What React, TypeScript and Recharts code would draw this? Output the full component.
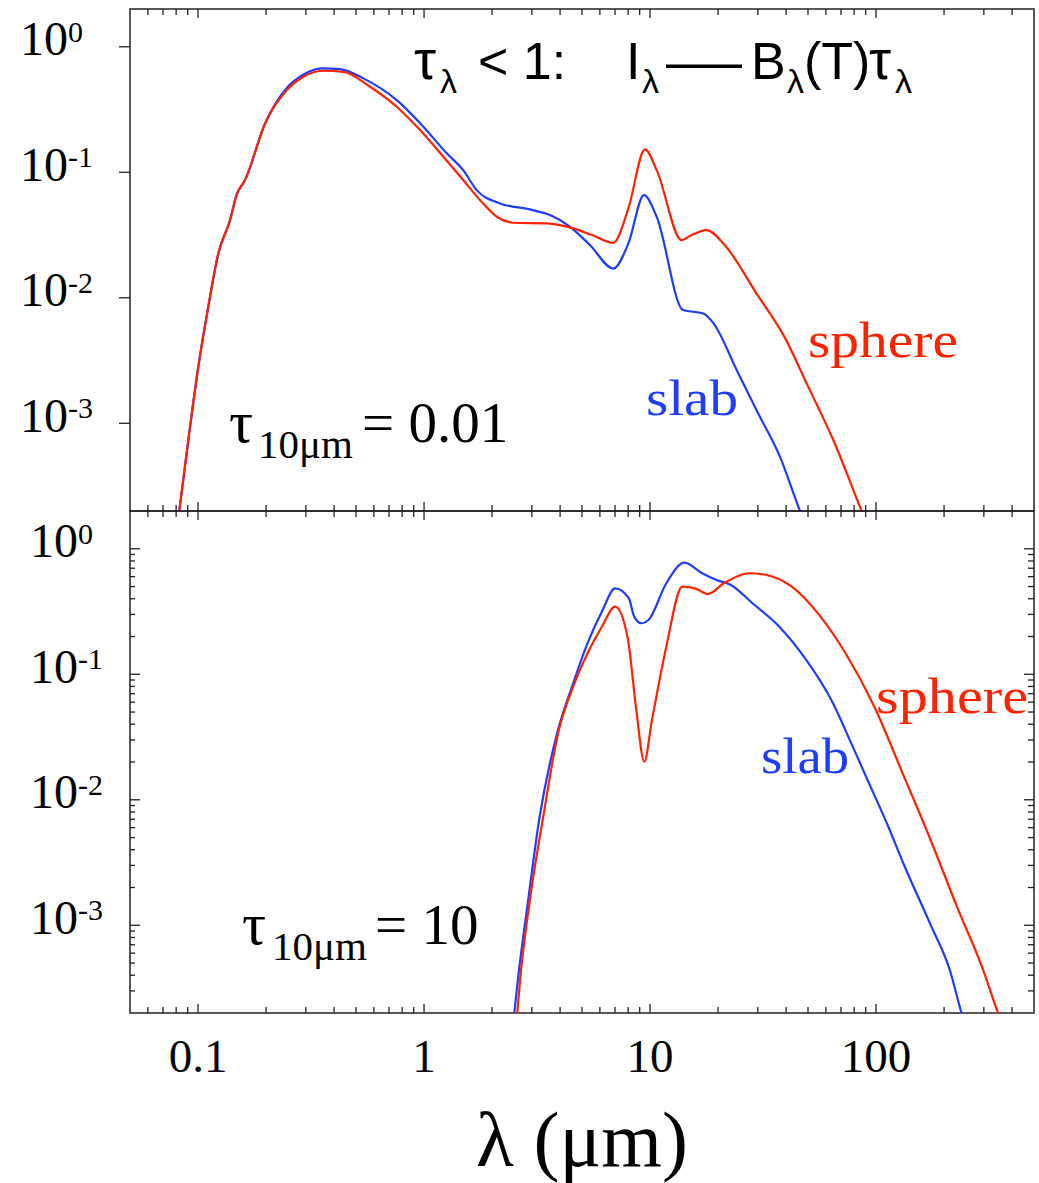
import { LineChart, Line, XAxis, YAxis, ReferenceArea } from 'recharts';

// λ (µm) vs normalised intensity, two optical depths, slab vs sphere geometry
const LAMBDA_DOMAIN: [number, number] = [0.05, 500];
const FLUX_DOMAIN: [number, number] = [2e-4, 2];

const X_TICKS = [
  0.06, 0.07, 0.08, 0.09, 0.1, 0.2, 0.3, 0.4, 0.5, 0.6, 0.7, 0.8, 0.9, 1, 2, 3, 4, 5, 6, 7, 8, 9,
  10, 20, 30, 40, 50, 60, 70, 80, 90, 100, 200, 300, 400,
];
const Y_MAJOR = [1, 0.1, 0.01, 0.001];
const Y_FINE = [
  1, 0.9, 0.8, 0.7, 0.6, 0.5, 0.4, 0.3, 0.2, 0.1, 0.09, 0.08, 0.07, 0.06, 0.05, 0.04, 0.03, 0.02,
  0.01, 0.009, 0.008, 0.007, 0.006, 0.005, 0.004, 0.003, 0.002, 0.001, 0.0009, 0.0008, 0.0007,
  0.0006, 0.0005, 0.0004, 0.0003,
];

// τ(10µm) = 0.01
const thinSlab: [number, number][] = [
  [0.0816, 1.69e-4], [0.0826, 2.0e-4], [0.0906, 7.35e-4], [0.1003, 2.82e-3], [0.111, 8.48e-3],
  [0.123, 0.0226], [0.1386, 0.0416], [0.148, 0.0658], [0.1615, 0.0867], [0.198, 0.245],
  [0.247, 0.469], [0.292, 0.598], [0.352, 0.673], [0.425, 0.664], [0.539, 0.56], [0.757, 0.376],
  [0.993, 0.231], [1.26, 0.1415], [1.49, 0.104], [1.71, 0.0721], [2.17, 0.0565], [2.94, 0.0506],
  [3.61, 0.0456], [4.43, 0.0368], [5.43, 0.0262], [6.88, 0.0171], [8.02, 0.0271], [9.4, 0.0658],
  [10.7, 0.0442], [14.0, 7.98e-3], [17.2, 7.5e-3], [19.1, 6.25e-3], [24.2, 2.65e-3],
  [29.6, 1.27e-3], [37.6, 5.4e-4], [46.1, 2.0e-4], [47.1, 1.82e-4],
];
const thinSphere: [number, number][] = [
  [0.0816, 1.69e-4], [0.0826, 2.0e-4], [0.0906, 7.35e-4], [0.1003, 2.82e-3], [0.111, 8.48e-3],
  [0.123, 0.0226], [0.1386, 0.0416], [0.148, 0.0658], [0.1615, 0.0867], [0.198, 0.245],
  [0.247, 0.452], [0.292, 0.577], [0.358, 0.644], [0.44, 0.632], [0.577, 0.48], [0.757, 0.333],
  [0.96, 0.217], [1.218, 0.133], [1.49, 0.0867], [1.77, 0.06], [2.1, 0.0442], [2.49, 0.0396],
  [3.49, 0.0392], [4.58, 0.0357], [5.54, 0.0316], [6.88, 0.0274], [8.02, 0.0515], [9.5, 0.152],
  [10.7, 0.104], [13.8, 0.0288], [15.0, 0.031], [17.8, 0.0346], [21.1, 0.0271], [29.6, 0.0108],
  [39.6, 4.77e-3], [49.3, 2.08e-3], [64.7, 7.35e-4], [84.9, 2.16e-4], [88, 1.84e-4],
];

// τ(10µm) = 10
const thickSlab: [number, number][] = [
  [2.49, 1.76e-4], [2.6, 3.66e-4], [2.89, 1.59e-3], [3.23, 6.9e-3], [3.88, 0.0339],
  [4.57, 0.0848], [5.29, 0.177], [6.12, 0.315], [7.01, 0.484], [8.05, 0.404], [8.51, 0.288],
  [9.16, 0.255], [9.85, 0.271], [11.8, 0.531], [14.2, 0.775], [17.0, 0.638], [19.7, 0.564],
  [22.8, 0.515], [28.4, 0.368], [36.7, 0.247], [49.1, 0.13], [63.4, 0.0624], [78.9, 0.0265],
  [90.9, 0.0149], [113, 6.18e-3], [132, 3.12e-3], [173, 1.04e-3], [212, 4.4e-4],
  [239, 1.99e-4], [244, 1.75e-4],
];
const thickSphere: [number, number][] = [
  [2.57, 1.76e-4], [2.66, 3.66e-4], [2.94, 1.59e-3], [3.35, 6.9e-3], [3.95, 0.036],
  [4.57, 0.0796], [5.29, 0.147], [6.12, 0.239], [7.01, 0.346], [7.97, 0.194], [8.66, 0.0552],
  [9.43, 0.0201], [10.2, 0.0432], [11.8, 0.166], [13.9, 0.499], [15.8, 0.484], [18.0, 0.436],
  [21.2, 0.531], [27.4, 0.638], [32.8, 0.618], [42.4, 0.499], [56.8, 0.288], [73.3, 0.147],
  [98.3, 0.0552], [132, 0.0158], [173, 4.96e-3], [228, 1.41e-3], [298, 4.4e-4],
  [347, 1.99e-4], [357, 1.75e-4],
];

const SERIF = '"Liberation Serif", "Times New Roman", serif';
const SANS = '"Liberation Sans", Arial, sans-serif';
const FRAME = '#222';
const RED = '#ff2200';
const BLUE = '#1f3dff';

const toPoints = (rows: [number, number][]) => rows.map(([x, y]) => ({ x, y }));

const isDecade = (v: number) => Math.abs(Math.log10(v) - Math.round(Math.log10(v))) < 1e-9;

// x ticks: dir = -1 draws upward from the axis, +1 downward
function xTick(dir: number, withLabel: boolean) {
  return (props: any) => {
    const { x, y, payload } = props;
    const major = isDecade(payload.value);
    const len = major ? 9 : 6;
    return (
      <g>
        <line x1={x} x2={x} y1={y} y2={y + dir * len} stroke={FRAME} strokeWidth={1.3} />
        {withLabel && major && (
          <text x={x} y={y + 59} textAnchor="middle" fontFamily={SERIF} fontSize={47} fill="#000">
            {String(payload.value)}
          </text>
        )}
      </g>
    );
  };
}

// y ticks: dir = +1 draws to the right of the axis, -1 to the left
function yTick(dir: number, majorLen: number, minorLen: number, labelDx: number | null) {
  return (props: any) => {
    const { x, y, payload } = props;
    const major = isDecade(payload.value);
    const len = major ? majorLen : minorLen;
    const exp = String(Math.round(Math.log10(payload.value)));
    return (
      <g>
        <line x1={x} x2={x + dir * len} y1={y} y2={y} stroke={FRAME} strokeWidth={1.3} />
        {labelDx !== null && major && (
          <text x={x + labelDx} y={y + 8.5} fontFamily={SERIF} fontSize={48} fill="#000">
            10
            <tspan dy={-13.5} fontSize={30}>
              {exp}
            </tspan>
          </text>
        )}
      </g>
    );
  };
}

type PanelProps = {
  width: number;
  height: number;
  margin: { top: number; right: number; bottom: number; left: number };
  slab: [number, number][];
  sphere: [number, number][];
  lower: boolean;
};

// axes are 1px thick so their size barely moves the plot area
function Panel({ width, height, margin, slab, sphere, lower }: PanelProps) {
  return (
    <LineChart width={width} height={height} margin={margin}>
      <XAxis
        dataKey="x"
        type="number"
        scale="log"
        domain={LAMBDA_DOMAIN}
        allowDataOverflow
        ticks={X_TICKS}
        interval={0}
        height={1}
        tickSize={0}
        tickMargin={0}
        axisLine={false}
        tickLine={false}
        tick={xTick(-1, lower)}
      />
      <XAxis
        xAxisId="top"
        orientation="top"
        dataKey="x"
        type="number"
        scale="log"
        domain={LAMBDA_DOMAIN}
        allowDataOverflow
        ticks={X_TICKS}
        interval={0}
        height={1}
        tickSize={0}
        tickMargin={0}
        axisLine={false}
        tickLine={false}
        tick={xTick(1, false)}
      />
      <YAxis
        dataKey="y"
        type="number"
        scale="log"
        domain={FLUX_DOMAIN}
        allowDataOverflow
        ticks={lower ? Y_FINE : Y_MAJOR}
        interval={0}
        width={1}
        tickSize={0}
        tickMargin={0}
        axisLine={false}
        tickLine={false}
        tick={lower ? yTick(1, 10, 5, -100) : yTick(-1, 11, 0, -110)}
      />
      {lower && (
        <YAxis
          yAxisId="right"
          orientation="right"
          type="number"
          scale="log"
          domain={FLUX_DOMAIN}
          allowDataOverflow
          ticks={Y_FINE}
          interval={0}
          width={1}
          tickSize={0}
          tickMargin={0}
          axisLine={false}
          tickLine={false}
          tick={yTick(-1, 10, 6, null)}
        />
      )}
      <ReferenceArea
        x1={LAMBDA_DOMAIN[0]}
        x2={LAMBDA_DOMAIN[1]}
        y1={FLUX_DOMAIN[0]}
        y2={FLUX_DOMAIN[1]}
        fill="none"
        fillOpacity={0}
        stroke={FRAME}
        strokeWidth={1.5}
        ifOverflow="visible"
      />
      <Line
        data={toPoints(slab)}
        dataKey="y"
        type="monotone"
        stroke={BLUE}
        strokeWidth={2.2}
        dot={false}
        isAnimationActive={false}
      />
      <Line
        data={toPoints(sphere)}
        dataKey="y"
        type="monotone"
        stroke={RED}
        strokeWidth={2.2}
        dot={false}
        isAnimationActive={false}
      />
    </LineChart>
  );
}

function Annotations() {
  const sub = { fontSize: 34 };
  return (
    <svg
      width={1039}
      height={1183}
      style={{ position: 'absolute', left: 0, top: 0, pointerEvents: 'none' }}
    >
      <g fontFamily={SANS} fill="#000" fontSize={52}>
        <text x={414} y={79} fontSize={56}>τ</text>
        <text x={440} y={93} {...sub}>λ</text>
        <text x={478} y={79}>{'< 1:'}</text>
        <text x={626} y={79}>I</text>
        <text x={642} y={93} {...sub}>λ</text>
        <text x={666} y={79} textLength={76} lengthAdjust="spacingAndGlyphs">—</text>
        <text x={751} y={79}>B</text>
        <text x={787} y={93} {...sub}>λ</text>
        <text x={804} y={79}>(T)</text>
        <text x={869} y={79} fontSize={56}>τ</text>
        <text x={895} y={93} {...sub}>λ</text>
      </g>

      <g fontFamily={SERIF} fill="#000">
        <text x={229} y={442} fontSize={60}>τ</text>
        <text x={258} y={458} fontSize={41}>10μm</text>
        <text x={362} y={442} fontSize={57}>= 0.01</text>

        <text x={242} y={944} fontSize={60}>τ</text>
        <text x={272} y={960} fontSize={41}>10μm</text>
        <text x={375} y={944} fontSize={57}>= 10</text>

        <text x={582} y={1166} fontSize={78} textAnchor="middle">λ (μm)</text>
      </g>

      <g fontFamily={SERIF} fontSize={50}>
        <text x={808} y={357} fill={RED} textLength={150} lengthAdjust="spacingAndGlyphs">sphere</text>
        <text x={646} y={415} fill={BLUE} textLength={92} lengthAdjust="spacingAndGlyphs">slab</text>
        <text x={876} y={713} fill={RED} textLength={152} lengthAdjust="spacingAndGlyphs">sphere</text>
        <text x={761} y={773} fill={BLUE} textLength={88} lengthAdjust="spacingAndGlyphs">slab</text>
      </g>
    </svg>
  );
}

export default function App() {
  return (
    <div style={{ position: 'absolute', left: 0, top: 0, width: 1039, height: 1183, background: '#fff' }}>
      <div style={{ position: 'absolute', left: 0, top: 0 }}>
        <Panel
          width={1039}
          height={520}
          margin={{ top: 8, right: 5, bottom: 8, left: 129 }}
          slab={thinSlab}
          sphere={thinSphere}
          lower={false}
        />
      </div>
      <div style={{ position: 'absolute', left: 0, top: 500 }}>
        <Panel
          width={1039}
          height={683}
          margin={{ top: 10, right: 4, bottom: 169, left: 129 }}
          slab={thickSlab}
          sphere={thickSphere}
          lower
        />
      </div>
      <Annotations />
    </div>
  );
}
